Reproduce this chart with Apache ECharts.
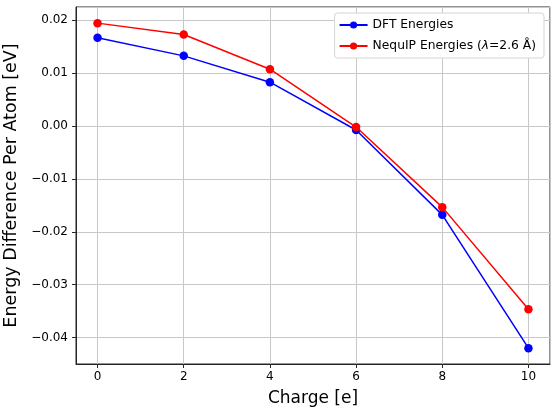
<!DOCTYPE html>
<html>
<head>
<meta charset="utf-8">
<script src="https://cdn.jsdelivr.net/npm/echarts@6/dist/echarts.min.js"></script>
<style>
  html, body { margin: 0; padding: 0; background: #fff; }
  #chart { width: 551px; height: 407px; }
</style>
</head>
<body>
<div id="chart"></div>
<script>
// ========== data ==========
const charges = [0, 2, 4, 6, 8, 10];
const dftEnergies = [0.01667, 0.01326, 0.00828, -0.00076, -0.0168, -0.0420];
const nequipEnergies = [0.01945, 0.01729, 0.01074, -0.0002, -0.01534, -0.03466];
const seriesNames = ['DFT Energies', 'NequIP Energies (λ=2.6 Å)'];

const FONT = 'DejaVu Sans';

function toPairs(xs, ys) {
    return xs.map((x, i) => [x, ys[i]]);
}

function fmtY(v) {
    return v.toFixed(2).replace('-', '\u2212');
}

const chart = echarts.init(document.getElementById('chart'));

const option = {
    animation: false,
    grid: {
        left: 76, right: 1, top: 7, bottom: 43,
        outerBoundsMode: 'none',
        containLabel: false,
        show: true, borderColor: '#262626', borderWidth: 1, backgroundColor: 'transparent'
    },
    legend: {
        orient: 'vertical',
        right: 7, top: 13,
        itemWidth: 28, itemHeight: 9, itemGap: 9,
        padding: [6, 8, 6, 4],
        backgroundColor: '#fff',
        borderColor: '#d5d5d5', borderWidth: 1, borderRadius: 3,
        textStyle: {
            fontFamily: FONT, fontSize: 12.3, color: '#000',
            rich: {
                i: { fontFamily: FONT, fontSize: 12.3, fontStyle: 'italic', color: '#000' }
            }
        },
        formatter: function (name) {
            return name.replace('λ', '{i|λ}');
        },
        data: seriesNames
    },
    xAxis: {
        type: 'value',
        min: -0.5, max: 10.5,
        splitNumber: 5,
        name: 'Charge [e]',
        nameLocation: 'middle',
        nameGap: 26,
        nameTextStyle: { fontFamily: FONT, fontSize: 17, color: '#000' },
        axisLine: { show: true, onZero: false, lineStyle: { color: '#262626' } },
        axisTick: { show: true, length: 4, lineStyle: { color: '#262626' } },
        axisLabel: {
            fontFamily: FONT, fontSize: 12, color: '#000', margin: 7,
            showMinLabel: false, showMaxLabel: false,
            formatter: v => String(v)
        },
        splitLine: { show: true, lineStyle: { color: '#c8c8c8', width: 1 } }
    },
    yAxis: {
        type: 'value',
        min: -0.045, max: 0.0225,
        splitNumber: 6,
        name: 'Energy Difference Per Atom [eV]',
        nameLocation: 'middle',
        nameGap: 52,
        nameTextStyle: { fontFamily: FONT, fontSize: 17.5, color: '#000' },
        axisLine: { show: true, onZero: false, lineStyle: { color: '#262626' } },
        axisTick: { show: true, length: 4, lineStyle: { color: '#262626' } },
        axisLabel: {
            fontFamily: FONT, fontSize: 12, color: '#000', margin: 8,
            showMinLabel: false, showMaxLabel: false,
            formatter: fmtY
        },
        splitLine: { show: true, lineStyle: { color: '#c8c8c8', width: 1 } }
    },
    series: [
        {
            name: seriesNames[0],
            type: 'line',
            data: toPairs(charges, dftEnergies),
            symbol: 'circle', symbolSize: 8.5,
            lineStyle: { color: '#0000ff', width: 1.5 },
            itemStyle: { color: '#0000ff' },
            z: 2
        },
        {
            name: seriesNames[1],
            type: 'line',
            data: toPairs(charges, nequipEnergies),
            symbol: 'circle', symbolSize: 8.5,
            lineStyle: { color: '#ff0000', width: 1.5 },
            itemStyle: { color: '#ff0000' },
            z: 3
        }
    ]
};

chart.setOption(option);
</script>
</body>
</html>
